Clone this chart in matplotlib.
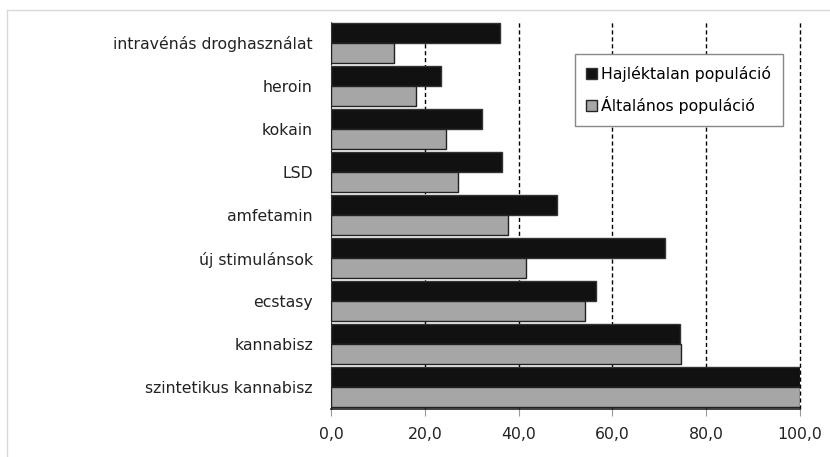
import numpy as np
import matplotlib.pyplot as plt
from matplotlib.lines import Line2D

categories = ['szintetikus kannabisz', 'kannabisz', 'ecstasy', 'új stimulánsok',
              'amfetamin', 'LSD', 'kokain', 'heroin', 'intravénás droghasználat']
homeless = [100.0, 74.4, 56.4, 71.3, 48.2, 36.5, 32.1, 23.4, 36.0]
general = [100.0, 74.6, 54.2, 41.5, 37.7, 27.1, 24.6, 18.1, 13.4]
xticks = [0, 20, 40, 60, 80, 100]
xtick_labels = ['0,0', '20,0', '40,0', '60,0', '80,0', '100,0']

plt.rcParams['font.family'] = ['DejaVu Sans']

fig = plt.figure(figsize=(8.3, 4.57), dpi=100)
ax = fig.add_axes([331 / 830, 1 - 409 / 457, 469 / 830, 388 / 457])

y = np.arange(len(categories))
h = 0.465
ax.barh(y + h / 2, homeless, height=h, color='#111111', edgecolor='#333333',
        linewidth=1, label='Hajléktalan populáció', zorder=3)
ax.barh(y - h / 2, general, height=h, color='#a6a6a6', edgecolor='#222222',
        linewidth=1, label='Általános populáció', zorder=3)

ax.set_xlim(0, 100)
ax.set_ylim(-0.5, len(categories) - 0.5)
ax.set_xticks(xticks)
ax.set_xticklabels(xtick_labels, fontsize=11.3, color='#222222')
ax.set_yticks(y)
ax.set_yticklabels(categories, fontsize=11.3, color='#222222')
ax.tick_params(axis='y', length=0, pad=13)
ax.tick_params(axis='x', length=5, color='#999999', direction='out', pad=8)

for v in xticks[1:]:
    ax.axvline(v, color='black', linestyle=(0, (3, 2)), linewidth=1, zorder=1,
               clip_on=False)

for s in ['top', 'right']:
    ax.spines[s].set_visible(False)
ax.spines['left'].set_color('#222222')
ax.spines['left'].set_linestyle((0, (3, 2)))
ax.spines['bottom'].set_color('#222222')
ax.spines['bottom'].set_linewidth(1.2)

leg = ax.legend(loc='upper right', bbox_to_anchor=(783 / 830, 1 - 54 / 457),
                bbox_transform=fig.transFigure, fontsize=11.3, frameon=True,
                fancybox=False, handlelength=0.7, handleheight=0.7,
                handletextpad=0.25, labelspacing=0.9, borderpad=0.75,
                borderaxespad=0)
leg.get_frame().set_edgecolor('#888888')
leg.get_frame().set_linewidth(1)
leg.get_frame().set_facecolor('white')
leg.get_frame().set_alpha(1)

# outer chart frame (partly cropped)
fig.add_artist(Line2D([7 / 830, 1], [1 - 10 / 457, 1 - 10 / 457],
                      transform=fig.transFigure, color='#d9d9d9', linewidth=1))
fig.add_artist(Line2D([7 / 830, 7 / 830], [0, 1 - 10 / 457],
                      transform=fig.transFigure, color='#d9d9d9', linewidth=1))

fig.savefig('out.png', dpi=100)
